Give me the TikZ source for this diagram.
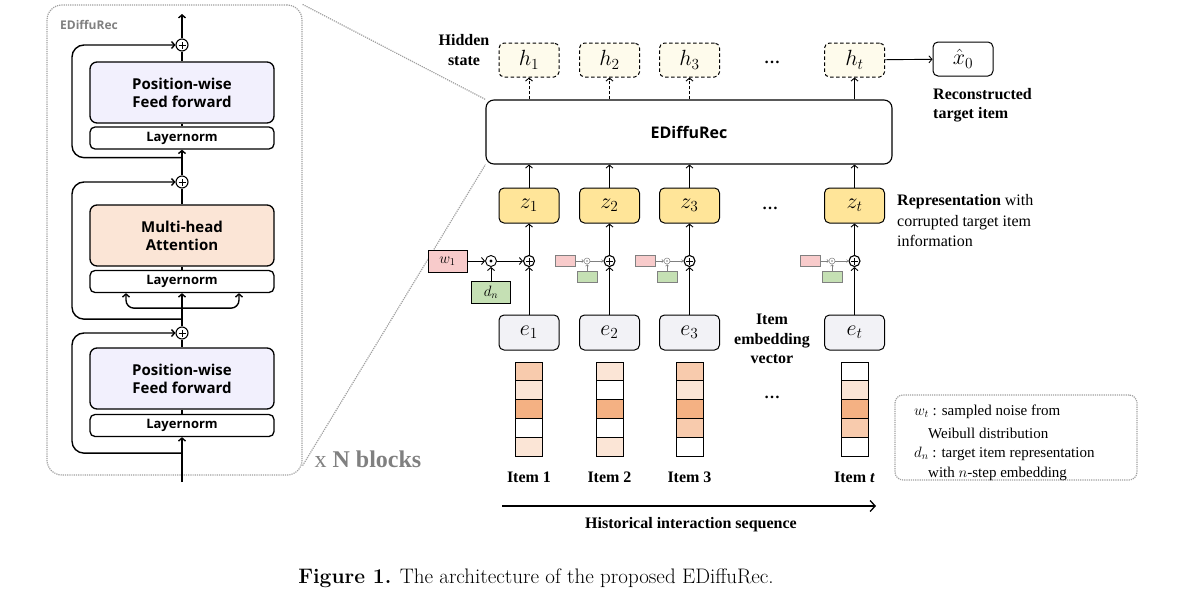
\RequirePackage{fix-cm}
\documentclass[tikz,border=0pt]{standalone}
\usepackage{fontspec}
\setsansfont{Open Sans}
\newfontfamily\tnr{Liberation Serif}
\usetikzlibrary{calc,arrows.meta}

\definecolor{ffwd}{RGB}{242,240,253}
\definecolor{mhatt}{RGB}{251,229,214}
\definecolor{hidst}{RGB}{254,251,236}
\definecolor{zyel}{RGB}{255,229,153}
\definecolor{egray}{RGB}{242,242,246}
\definecolor{wpink}{RGB}{248,203,203}
\definecolor{dgreen}{RGB}{197,224,180}
\definecolor{clt}{RGB}{251,229,214}
\definecolor{cmd}{RGB}{248,203,173}
\definecolor{cdk}{RGB}{244,177,131}
\definecolor{dotgray}{RGB}{160,160,160}

\tikzset{
	>={Straight Barb[length=3pt,width=7pt]},
	thl/.style={line width=1.4pt},
	arr/.style={->, line width=0.9pt},
	blk/.style={draw, line width=1.3pt, rounded corners=7pt, fill=white, minimum width=184pt, inner sep=0pt, align=center, font=\sffamily\bfseries\fontsize{15}{18}\selectfont},
	lnorm/.style={blk, rounded corners=5pt, minimum height=22pt, font=\sffamily\bfseries\fontsize{13}{15}\selectfont},
	addop/.style={circle, draw, line width=1.1pt, fill=white, inner sep=0pt, minimum size=12pt, path picture={\draw[line width=1pt, shift={(path picture bounding box.center)}] (-3.5pt,0) -- (3.5pt,0) (0,-3.5pt) -- (0,3.5pt);}},
	mulop/.style={circle, draw, line width=0.9pt, fill=white, inner sep=0pt, minimum size=11pt},
	msm/.style={circle, draw=gray, line width=0.5pt, fill=white, inner sep=0pt, minimum size=6pt},
	panelbox/.style={draw=dotgray, densely dotted, line width=1.2pt, rounded corners=15pt},
	mainbox/.style={draw, line width=1.1pt, rounded corners=8pt, minimum width=406pt, minimum height=64pt, font=\sffamily\bfseries\fontsize{16}{18}\selectfont},
	vecbox/.style={draw, line width=1pt, rounded corners=5pt, minimum width=60pt, minimum height=35pt, inner sep=0pt, font=\fontsize{22}{24}\selectfont},
	hid/.style={vecbox, fill=hidst, dash pattern=on 3.5pt off 2.5pt, minimum height=34pt},
	wbox/.style={draw, line width=1pt, minimum width=39pt, minimum height=22pt, inner sep=0pt, font=\fontsize{15}{17}\selectfont},
	smbox/.style={draw=gray, line width=0.6pt, minimum width=20pt, minimum height=11.5pt, inner sep=0pt},
	smarr/.style={-{Straight Barb[length=1.5pt,width=3pt]}, draw=gray, line width=0.6pt},
	lab/.style={font=\tnr\bfseries\fontsize{16}{19.5}\selectfont, align=center},
	txt/.style={font=\tnr\fontsize{16}{20.5}\selectfont, align=left},
	legtxt/.style={font=\tnr\fontsize{15}{18}\selectfont, anchor=west, inner sep=0pt}
}

\begin{document}
\begin{tikzpicture}[x=1pt,y=-1pt]
	\useasboundingbox (0,0) rectangle (1203,597);
	
	%%%%% LEFT: EDiffuRec block %%%%%
	\node[panelbox, minimum width=255pt, minimum height=470pt] (panel) at (174.5,240) {};
	\node[font=\sffamily\bfseries\fontsize{12}{14}\selectfont, text=gray, anchor=west, inner sep=0pt] (ptitle) at (60,25) {EDiffuRec};
	
	\node[blk, fill=ffwd, minimum height=61pt] (ff1) at (182,92.5) {Position-wise\\Feed forward};
	\node[lnorm] (ln1) at (182,138) {Layernorm};
	\node[addop] (ad1) at (182,45) {};
	\node[addop] (ad2) at (182,182) {};
	\node[blk, fill=mhatt, minimum height=61pt] (mha) at (182,235.5) {Multi-head\\Attention};
	\node[lnorm] (ln2) at (182,281.5) {Layernorm};
	\node[addop] (ad3) at (182,333) {};
	\node[blk, fill=ffwd, minimum height=61pt] (ff2) at (182,378.5) {Position-wise\\Feed forward};
	\node[lnorm] (ln3) at (182,425.5) {Layernorm};
	\coordinate (bout) at (182,14);
	\coordinate (bin) at (182,482);
	
	\draw[thl, ->] (ad1) -- (bout);
	\draw[thl] (ad1) -- (ff1) (ff1) -- (ln1);
	\draw[thl, ->] (ad2) -- (ln1);
	\draw[thl] (ad2) -- (mha) (mha) -- (ln2);
	\draw[thl, ->] (ad3) -- (ln2);
	\draw[thl] (ad3) -- (ff2) (ff2) -- (ln3);
	\draw[thl, ->] (bin) -- (ln3);
	
	% residual paths
	\draw[thl, ->, rounded corners=12pt] ($(ln1.south)+(0,8)$) -| (72,100) |- (ad1);
	\draw[thl, ->, rounded corners=12pt] ($(ln2.south)+(0,26)$) -| (72,250) |- (ad2);
	\draw[thl, ->, rounded corners=12pt] ($(ln3.south)+(0,16)$) -| (72,400) |- (ad3);
	\draw[thl, ->, rounded corners=8pt] ($(ln2.south)+(0,15)$) -| ($(ln2.south)+(-56,0)$);
	\draw[thl, ->, rounded corners=8pt] ($(ln2.south)+(0,15)$) -| ($(ln2.south)+(57,0)$);
	
	\node[font=\tnr\fontsize{24}{26}\selectfont, text=gray] (nblk) at (368,459) {x \textbf{N blocks}};
	
	%%%%% RIGHT: sequence %%%%%
	\node[mainbox] (edr) at (689,132) {EDiffuRec};
	\draw[dotgray, densely dotted, line width=1.2pt] (panel.north east) -- (edr.north west);
	\draw[dotgray, densely dotted, line width=1.2pt] ([yshift=10pt]panel.south east) -- (edr.south west);
	
	\foreach \i/\cx in {1/529,2/609.5,3/689.5,t/854.5}{
		\node[hid] (h\i) at (\cx,60) {$h_\i$};
		\node[vecbox, fill=zyel] (z\i) at (\cx,205.5) {$z_\i$};
		\node[addop, minimum size=11pt] (a\i) at (\cx,261) {};
		\node[vecbox, fill=egray] (e\i) at (\cx,332.5) {$e_\i$};
		\draw[arr] (e\i) -- (a\i);
		\draw[arr] (a\i) -- (z\i);
		\draw[arr] (z\i) -- (z\i |- edr.south);
	}
	\foreach \i in {1,2,3}
		\draw[arr, dash pattern=on 3pt off 2pt] (h\i |- edr.north) -- (h\i);
	\draw[arr] (ht |- edr.north) -- (ht);
	
	\node[vecbox, fill=white, minimum height=34pt] (x0) at (963,59) {$\hat{x}_0$};
	\draw[arr] (ht) -- (x0);
	
	% noise for item 1
	\node[wbox, fill=wpink] (w1) at (447.5,261) {$w_1$};
	\node[mulop] (m1) at (491,261) {};
	\fill (m1.center) circle (1.7pt);
	\node[wbox, fill=dgreen] (d1) at (491,292) {$d_n$};
	\draw[arr] (w1) -- (m1);
	\draw[arr] (m1) -- (a1);
	\draw[arr] (d1) -- (m1);
	\foreach \i/\cx in {2/609.5,3/689.5,t/854.5}{
		\node[smbox, fill=wpink] (w\i) at (\cx-44.5,261) {};
		\node[msm] (m\i) at (\cx-22.5,261) {};
		\fill[gray] (m\i.center) circle (0.9pt);
		\node[smbox, fill=dgreen] (d\i) at (\cx-22.5,277) {};
		\draw[smarr] (w\i) -- (m\i);
		\draw[smarr] (m\i) -- (a\i);
		\draw[smarr] (d\i) -- (m\i);
	}
	
	% item vectors
	\foreach \i/\cx/\cols/\lab in {1/529/{cmd,clt,cdk,white,clt}/1, 2/609.5/{clt,white,cdk,white,clt}/2, 3/689.5/{cmd,clt,cdk,cmd,white}/3, t/854.5/{white,clt,cdk,cmd,white}/\textit{t}}{
		\foreach \c [count=\k from 0] in \cols
			\draw[line width=1pt, fill=\c] (\cx-13.5,362+\k*18.8) rectangle ++(27,18.8);
		\node[lab] (item\i) at (\cx,477) {Item \lab};
	}
	
	\node[lab] (dh) at (772,62) {\ldots};
	\node[lab] (dz) at (770,208) {\ldots};
	\node[lab] (dv) at (772,397) {\ldots};
	
	\node[lab] (hidlab) at (464,50) {Hidden\\state};
	\node[lab, align=left, anchor=west, inner sep=0pt] (reclab) at (933,105) {Reconstructed\\target item};
	\node[txt, anchor=west, inner sep=0pt] (replab) at (897,221) {\textbf{Representation} with\\corrupted target item\\information};
	\node[lab] (emblab) at (772,339) {Item\\embedding\\vector};
	
	\coordinate (hs) at (502,506);
	\coordinate (he) at (876,506);
	\draw[line width=1.3pt, -{Straight Barb[length=5pt,width=11pt]}] (hs) -- (he);
	\node[lab] (seqlab) at (691,525) {Historical interaction sequence};
	
	% legend
	\node[panelbox, rounded corners=8pt, minimum width=242pt, minimum height=85pt] (leg) at (1016,437.5) {};
	\node[legtxt] (lg1) at (914,412) {$w_t$ : sampled noise from};
	\node[legtxt] (lg2) at (928,433) {Weibull distribution};
	\node[legtxt] (lg3) at (914,454) {$d_n$ : target item representation};
	\node[legtxt] (lg4) at (928,474) {with $n$-step embedding};
	
	\node[font=\fontsize{21}{23}\selectfont] (cap) at (536,578) {\textbf{Figure 1.} The architecture of the proposed EDiffuRec.};
\end{tikzpicture}
\end{document}
